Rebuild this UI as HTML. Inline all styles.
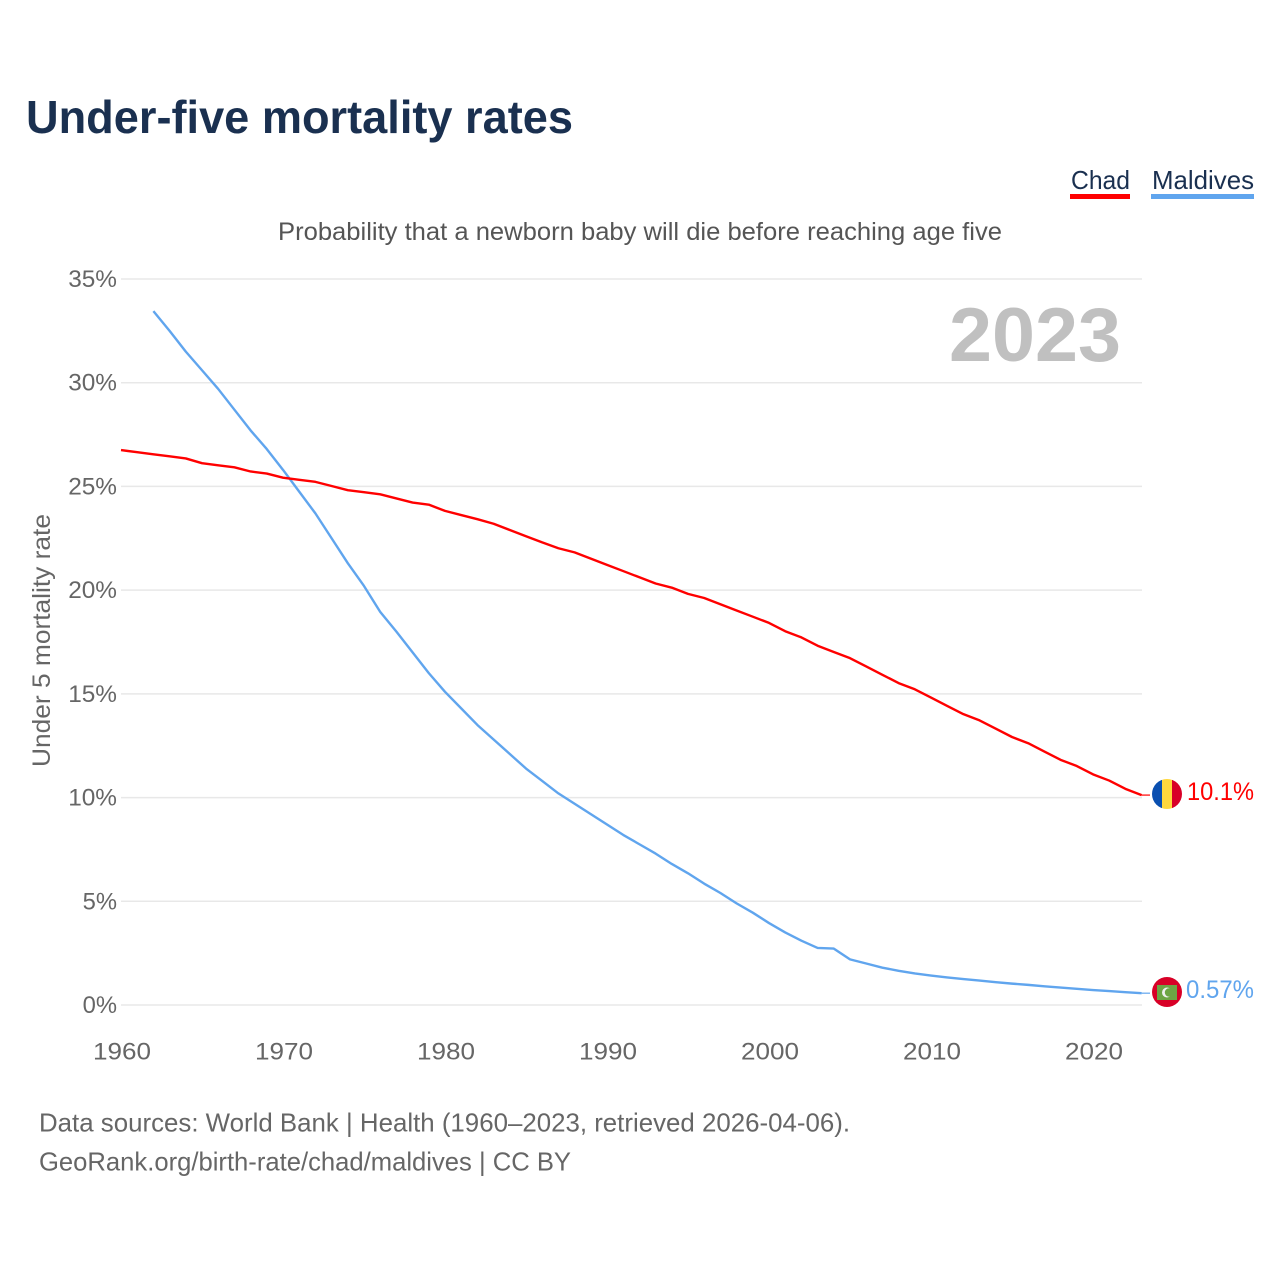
<!DOCTYPE html>
<html lang="en">
<head>
<meta charset="utf-8">
<title>Under-five mortality rates</title>
<style>
  html, body { margin: 0; padding: 0; background: #fff; }
  svg { display: block; font-family: "Liberation Sans", Arial, sans-serif; }
</style>
</head>
<body>
<svg id="chart" width="1280" height="1280" viewBox="0 0 1280 1280" xmlns="http://www.w3.org/2000/svg">
  <defs>
    <clipPath id="flag-clip-chad"><circle cx="1167" cy="794" r="15"></circle></clipPath>
    <clipPath id="flag-clip-maldives"><circle cx="1167" cy="992" r="15"></circle></clipPath>
  </defs>
  <rect x="0" y="0" width="1280" height="1280" fill="#ffffff"></rect>
  <text x="26" y="133" font-size="46" font-weight="700" fill="#1a3050" textLength="547" lengthAdjust="spacingAndGlyphs">Under-five mortality rates</text>

  <text x="1071" y="189" font-size="26" fill="#1a3050" textLength="59" lengthAdjust="spacingAndGlyphs">Chad</text>
  <rect x="1070" y="194" width="60" height="5" fill="#ff0000"></rect>
  <text x="1152" y="189" font-size="26" fill="#1a3050" textLength="102" lengthAdjust="spacingAndGlyphs">Maldives</text>
  <rect x="1151" y="194" width="103" height="5" fill="#60a5ee"></rect>

  <text x="278" y="240" font-size="25" fill="#555555" textLength="724" lengthAdjust="spacingAndGlyphs">Probability that a newborn baby will die before reaching age five</text>
  <text transform="translate(50,767) rotate(-90)" x="0" y="0" font-size="25" fill="#666666" textLength="253" lengthAdjust="spacingAndGlyphs">Under 5 mortality rate</text>

  <g id="grid"></g>
  <g id="yticks"></g>
  <g id="xticks"></g>

  <text x="949" y="361" font-size="76" font-weight="700" fill="#c0c0c0" textLength="172" lengthAdjust="spacingAndGlyphs">2023</text>

  <g id="series"></g>

  <g clip-path="url(#flag-clip-chad)">
    <rect x="1152" y="779" width="10" height="30" fill="#0a4fb0"></rect>
    <rect x="1162" y="779" width="10" height="30" fill="#ffd83d"></rect>
    <rect x="1172" y="779" width="10" height="30" fill="#d80027"></rect>
  </g>
  <text x="1187" y="800" font-size="25" fill="#ff0000" textLength="67" lengthAdjust="spacingAndGlyphs">10.1%</text>

  <g clip-path="url(#flag-clip-maldives)">
    <rect x="1152" y="977" width="30" height="30" fill="#d80027"></rect>
    <rect x="1157" y="985" width="20" height="15" fill="#6da544"></rect>
    <circle cx="1167" cy="992.5" r="5" fill="#f0f0f0"></circle>
    <circle cx="1169" cy="992.5" r="4.2" fill="#6da544"></circle>
  </g>
  <text x="1186" y="998" font-size="25" fill="#60a5ee" textLength="68" lengthAdjust="spacingAndGlyphs">0.57%</text>

  <text x="39" y="1131.5" font-size="26" fill="#666666" textLength="811" lengthAdjust="spacingAndGlyphs">Data sources: World Bank | Health (1960–2023, retrieved 2026-04-06).</text>
  <text x="39" y="1170.5" font-size="26" fill="#666666" textLength="532" lengthAdjust="spacingAndGlyphs">GeoRank.org/birth-rate/chad/maldives | CC BY</text>
</svg>
<script>
const yTickValues = [0, 5, 10, 15, 20, 25, 30, 35];
const xTickValues = [1960, 1970, 1980, 1990, 2000, 2010, 2020];
const chadStartYear = 1960;
const chadValues = [26.75, 26.65, 26.55, 26.45, 26.35, 26.12, 26.02, 25.92, 25.72, 25.62, 25.42, 25.32, 25.22, 25.02, 24.82, 24.72, 24.62, 24.42, 24.22, 24.12, 23.82, 23.62, 23.42, 23.2, 22.9, 22.6, 22.3, 22.02, 21.82, 21.52, 21.22, 20.92, 20.62, 20.32, 20.12, 19.82, 19.62, 19.32, 19.02, 18.72, 18.42, 18.02, 17.72, 17.32, 17.02, 16.72, 16.32, 15.92, 15.52, 15.22, 14.82, 14.42, 14.02, 13.72, 13.32, 12.92, 12.62, 12.22, 11.82, 11.52, 11.12, 10.82, 10.42, 10.12];
const maldivesStartYear = 1962;
const maldivesValues = [33.45, 32.5, 31.5, 30.6, 29.7, 28.7, 27.7, 26.8, 25.8, 24.75, 23.7, 22.5, 21.3, 20.2, 18.95, 18.0, 17.0, 16.0, 15.1, 14.3, 13.5, 12.8, 12.1, 11.4, 10.8, 10.2, 9.7, 9.2, 8.7, 8.2, 7.75, 7.3, 6.8, 6.35, 5.85, 5.4, 4.9, 4.45, 3.95, 3.5, 3.1, 2.75, 2.72, 2.2, 2.0, 1.8, 1.65, 1.52, 1.42, 1.33, 1.25, 1.18, 1.1, 1.03, 0.97, 0.9, 0.84, 0.78, 0.72, 0.67, 0.62, 0.57];

const NS = 'http://www.w3.org/2000/svg';
function xScale(year) { return 121 + (year - 1960) * 16.2; }
function yScale(v) { return 1005 - v * 20.743; }
function make(tag, attrs, parent, text) {
  const el = document.createElementNS(NS, tag);
  for (const k in attrs) el.setAttribute(k, attrs[k]);
  if (text !== undefined) el.textContent = text;
  parent.appendChild(el);
  return el;
}

const grid = document.getElementById('grid');
const yticks = document.getElementById('yticks');
const xticks = document.getElementById('xticks');
const series = document.getElementById('series');

yTickValues.forEach(function (v) {
  const line = make('line', { x1: xScale(1960), x2: 1142, y1: yScale(v), y2: yScale(v), stroke: '#e8e8e8', 'stroke-width': 1.5 }, grid);
  
  
  const label = v + '%';
  const t = make('text', { x: 117, y: yScale(v) + 8, 'text-anchor': 'end', 'font-size': 24.5, fill: '#666666', textLength: (label.length - 1) * 14.4 + 20, lengthAdjust: 'spacingAndGlyphs' }, yticks, label);
  
  
});

xTickValues.forEach(function (y) {
  const t = make('text', { x: xScale(y) + 1, y: 1059.5, 'text-anchor': 'middle', 'font-size': 24.5, fill: '#666666', textLength: 58, lengthAdjust: 'spacingAndGlyphs' }, xticks, String(y));
  
  
});

function drawSeries(values, startYear, color, name) {
  const pts = values.map(function (v, i) { return xScale(startYear + i).toFixed(2) + ',' + yScale(v).toFixed(2); });
  const line = make('polyline', { points: pts.join(' '), fill: 'none', stroke: color, 'stroke-width': 2.4, 'stroke-linejoin': 'round' }, series);
  
  
  const lastY = yScale(values[values.length - 1]);
  const lead = make('line', { x1: xScale(startYear + values.length - 1), x2: 1150, y1: lastY, y2: lastY, stroke: color, 'stroke-width': 1.2 }, series);
  
  
}
drawSeries(maldivesValues, maldivesStartYear, '#60a5ee', 'maldives-line');
drawSeries(chadValues, chadStartYear, '#ff0000', 'chad-line');
</script>
</body>
</html>
